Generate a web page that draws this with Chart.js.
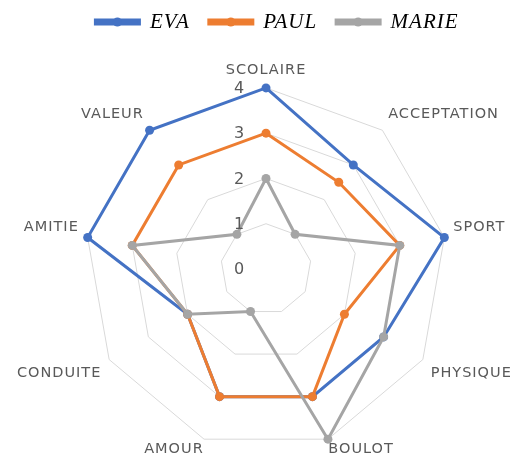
<!DOCTYPE html>
<html lang="fr">
<head>
    <meta charset="UTF-8">
    <title>Radar</title>
    <script src="https://cdn.jsdelivr.net/npm/chart.js"></script>
    <style>
        html, body { margin: 0; padding: 0; background: #fff; }
        #wrap { width: 523px; height: 468px; }
    </style>
</head>
<body>
    <div id="wrap"><canvas id="radar"></canvas></div>
    <script>
        // categories et valeurs
        const categories = ['SCOLAIRE', 'ACCEPTATION', 'SPORT', 'PHYSIQUE', 'BOULOT', 'AMOUR', 'CONDUITE', 'AMITIE', 'VALEUR'];
        const eva = [4, 3, 4, 3, 3, 3, 2, 4, 4];
        const paul = [3, 2.5, 3, 2, 3, 3, 2, 3, 3];
        const marie = [2, 1, 3, 3, 4, 1, 2, 3, 1];
        const tickValues = [0, 1, 2, 3, 4];

        const colors = { eva: '#4472C4', paul: '#ED7D31', marie: '#A5A5A5' };

        // texte un peu espacé comme sur l'original
        const spacingPlugin = {
            id: 'spacing',
            beforeUpdate(chart) { chart.ctx.letterSpacing = '1px'; },
            beforeDraw(chart) { chart.ctx.letterSpacing = '1px'; },
            // la légende de l'original est un peu décalée vers la droite
            afterLayout(chart) { if (chart.legend) chart.legend.left += 24; }
        };

        // libellés des graduations, placés à gauche de l'axe comme dans Excel
        const tickLabelPlugin = {
            id: 'tickLabels',
            afterDatasetsDraw(chart) {
                const scale = chart.scales.r;
                const ctx = chart.ctx;
                ctx.save();
                ctx.letterSpacing = '0px';
                ctx.font = '16px "DejaVu Sans"';
                ctx.fillStyle = '#595959';
                ctx.textAlign = 'center';
                ctx.textBaseline = 'middle';
                tickValues.forEach(v => {
                    const p = scale.getPointPositionForValue(0, v);
                    ctx.fillText(String(v), scale.xCenter - 27, p.y + 1);
                });
                ctx.restore();
            }
        };

        // petit rond au milieu du trait de légende
        const legendMarkerPlugin = {
            id: 'legendMarkers',
            afterDraw(chart) {
                const legend = chart.legend;
                if (!legend || !legend.legendHitBoxes) return;
                const ctx = chart.ctx;
                legend.legendHitBoxes.forEach((box, i) => {
                    const w = legend.options.labels.boxWidth;
                    ctx.save();
                    ctx.fillStyle = legend.legendItems[i].strokeStyle;
                    ctx.beginPath();
                    ctx.arc(box.left + w / 2, box.top + box.height / 2, 4.5, 0, Math.PI * 2);
                    ctx.fill();
                    ctx.restore();
                });
            }
        };

        const ctx = document.getElementById('radar').getContext('2d');
        new Chart(ctx, {
            type: 'radar',
            data: {
                labels: categories,
                datasets: [
                    { label: 'EVA', data: eva, order: 3, borderColor: colors.eva, backgroundColor: colors.eva, pointBackgroundColor: colors.eva },
                    { label: 'PAUL', data: paul, order: 2, borderColor: colors.paul, backgroundColor: colors.paul, pointBackgroundColor: colors.paul },
                    { label: 'MARIE', data: marie, order: 1, borderColor: colors.marie, backgroundColor: colors.marie, pointBackgroundColor: colors.marie }
                ]
            },
            options: {
                responsive: true,
                maintainAspectRatio: false,
                animation: false,
                layout: { autoPadding: false, padding: { top: -7.5, bottom: -12.4, left: 6, right: -1 } },
                elements: {
                    line: { borderWidth: 3, fill: false, tension: 0 },
                    point: { radius: 4.5, borderWidth: 0, hoverRadius: 5 }
                },
                plugins: {
                    tooltip: { enabled: false },
                    legend: {
                        position: 'top',
                        labels: {
                            boxWidth: 44,
                            boxHeight: 4,
                            padding: 19,
                            color: '#000',
                            sort: (a, b) => a.datasetIndex - b.datasetIndex,
                            font: { family: '"Liberation Serif", serif', size: 21, style: 'italic' }
                        }
                    },
                    // sous-titre vide : simple espace entre la légende et le radar
                    subtitle: {
                        display: true,
                        text: '',
                        weight: 500,
                        padding: 0,
                        font: { size: 9, lineHeight: 1 }
                    }
                },
                scales: {
                    r: {
                        min: 0,
                        max: 4,
                        ticks: { stepSize: 1, display: false },
                        grid: { color: '#D9D9D9', lineWidth: 1 },
                        angleLines: { display: false },
                        pointLabels: {
                            color: '#595959',
                            padding: (c) => (c.index === 4 || c.index === 5) ? 1 : 9,
                            font: { family: '"DejaVu Sans"', size: 14.5 }
                        }
                    }
                }
            },
            plugins: [spacingPlugin, tickLabelPlugin, legendMarkerPlugin]
        });
    </script>
</body>
</html>
